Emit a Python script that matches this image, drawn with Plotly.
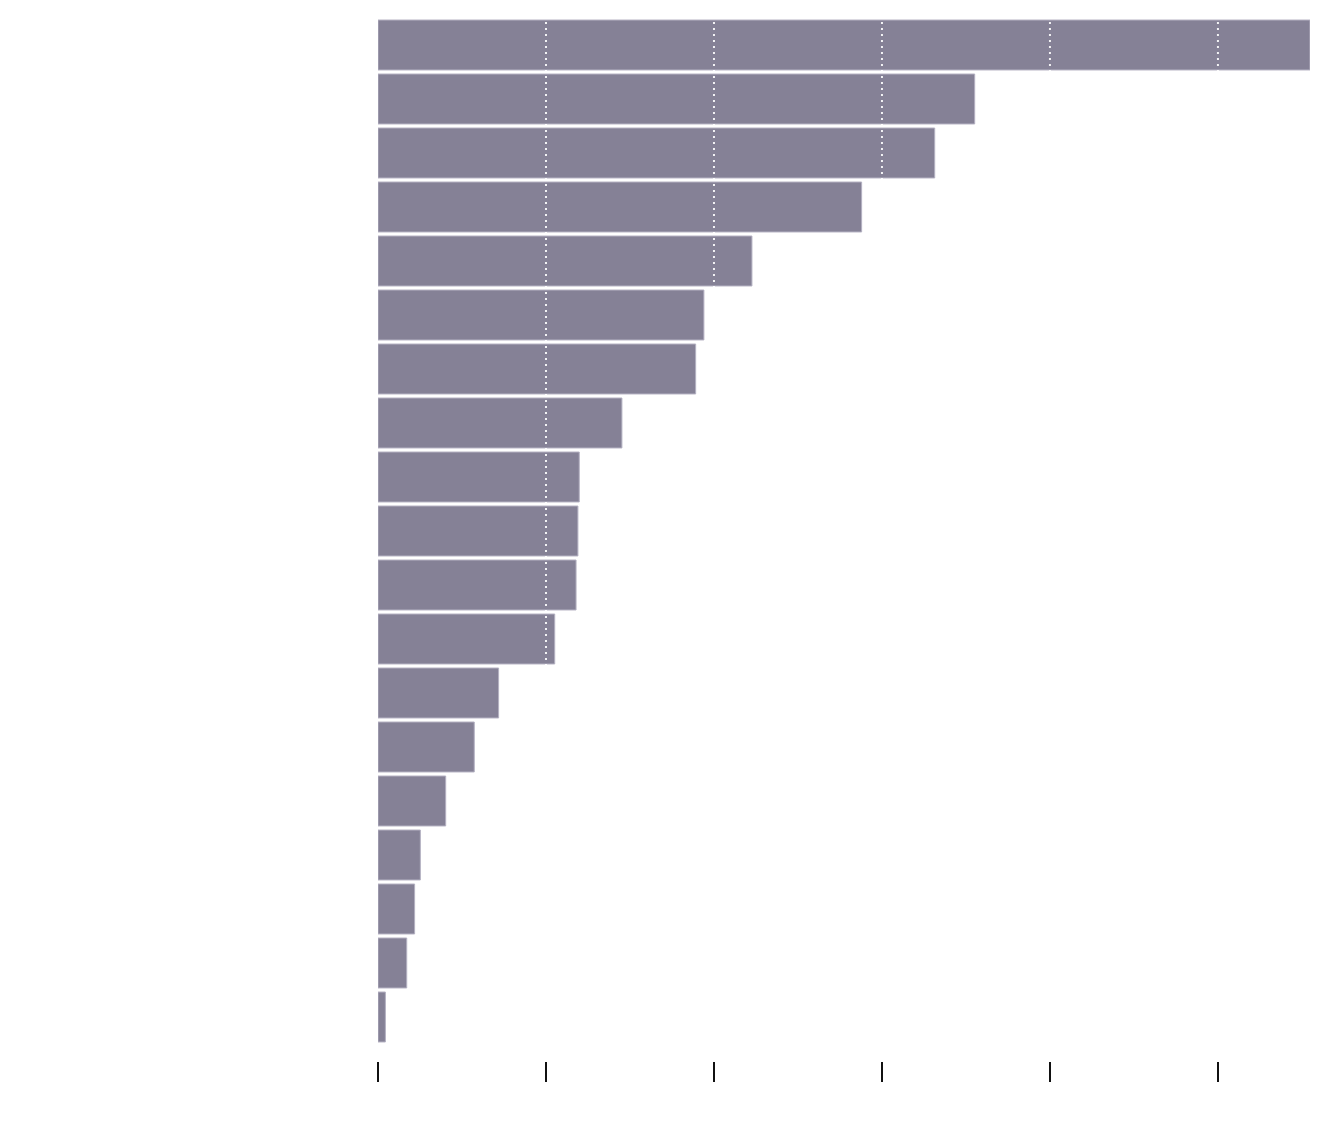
import plotly.graph_objects as go

categories = ["c01", "c02", "c03", "c04", "c05", "c06", "c07", "c08", "c09", "c10",
              "c11", "c12", "c13", "c14", "c15", "c16", "c17", "c18", "c19"]
values = [55.48, 35.52, 33.14, 28.79, 22.26, 19.40, 18.91, 14.52, 11.98, 11.90,
          11.79, 10.52, 7.18, 5.73, 4.03, 2.52, 2.18, 1.71, 0.44]
tick_values = [0, 10, 20, 30, 40, 50]

W, H = 1324, 1124
m_left, m_right, m_top, m_bottom = 370, 22, 10, 71
plot_h = H - m_top - m_bottom
dom_bottom = 17 / plot_h

fig = go.Figure(go.Bar(
    x=values, y=categories, orientation="h",
    marker=dict(color="#858196", line=dict(color="#b4b1c2", width=1)),
    hoverinfo="x+y",
))

shapes = [
    dict(type="line", xref="x", yref="y domain", x0=t, x1=t, y0=0, y1=1,
         line=dict(color="rgba(255,255,255,0.9)", width=2, dash="2px,4px"), layer="above")
    for t in tick_values if t > 0
]

fig.update_layout(
    width=W, height=H,
    margin=dict(l=m_left, r=m_right, t=m_top, b=m_bottom, pad=0),
    paper_bgcolor="white", plot_bgcolor="white",
    bargap=0.075,
    showlegend=False,
    shapes=shapes,
    xaxis=dict(range=[0, max(values)], tickvals=tick_values, showticklabels=False,
               ticks="outside", ticklen=20, tickwidth=1.5, tickcolor="#111111",
               showgrid=False, zeroline=False, showline=False,
               anchor="free", position=0),
    yaxis=dict(domain=[dom_bottom, 1], autorange="reversed", showticklabels=False,
               ticks="", showgrid=False, zeroline=False, showline=False),
)

fig.write_html("out.html")
